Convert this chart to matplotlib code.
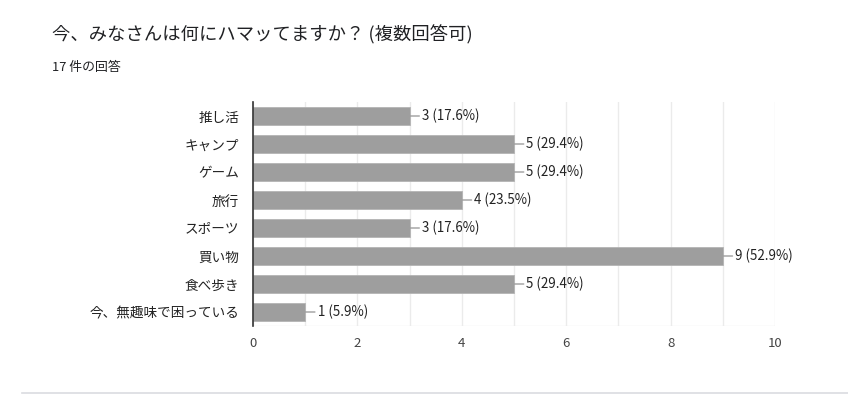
import matplotlib
matplotlib.use("Agg")
import matplotlib.pyplot as plt
from matplotlib.lines import Line2D

plt.rcParams['font.family'] = ['Noto Sans CJK JP', 'DejaVu Sans']

title = "今、みなさんは何にハマッてますか？ (複数回答可)"
subtitle = "17 件の回答"
categories = ["推し活", "キャンプ", "ゲーム", "旅行", "スポーツ", "買い物", "食べ歩き", "今、無趣味で困っている"]
counts = [3, 5, 5, 4, 3, 9, 5, 1]
percents = ["17.6", "29.4", "29.4", "23.5", "17.6", "52.9", "29.4", "5.9"]
xticks = [0, 2, 4, 6, 8, 10]

W, H = 848, 395
fig = plt.figure(figsize=(W / 100, H / 100), dpi=100)
ax = fig.add_axes([253 / W, 1 - 326 / H, (775 - 253) / W, (326 - 102) / H])

y = list(range(len(categories)))
ax.barh(y, counts, height=0.64, color="#9e9e9e", edgecolor="#b4b4b4", linewidth=0.6, zorder=3)
ax.set_ylim(len(categories) - 0.5, -0.5)
ax.set_xlim(0, 10)

ax.set_xticks(xticks)
ax.set_xticks(range(0, 11), minor=True)
ax.grid(True, axis='x', which='both', color="#ebebeb", linewidth=1, zorder=0)
ax.set_yticks(y)
ax.set_yticklabels(categories)
ax.tick_params(axis='y', length=0, pad=10, labelsize=9.8, labelcolor="#222222")
ax.tick_params(axis='x', length=0, pad=8, labelsize=9.5, labelcolor="#444444")
ax.tick_params(which='minor', length=0)

for s in ["top", "right", "bottom"]:
    ax.spines[s].set_visible(False)
ax.spines["left"].set_color("#333333")
ax.spines["left"].set_linewidth(1.2)
ax.spines["left"].set_zorder(4)
ax.axhline(len(categories) - 0.5, color="#ebebeb", linewidth=1, zorder=0)

for yi, c, p in zip(y, counts, percents):
    ax.annotate(f"{c} ({p}%)", xy=(c, yi), xytext=(9, 0), textcoords="offset points",
                va="center", ha="left", fontsize=9.6, color="#222222",
                arrowprops=dict(arrowstyle="-", color="#9e9e9e", lw=1, shrinkA=0, shrinkB=0))

fig.text(52 / W, 1 - 35 / H, title, fontsize=13.2, color="#202124", va="center", ha="left")
fig.text(52 / W, 1 - 68 / H, subtitle, fontsize=9.3, color="#202124", va="center", ha="left")

fig.add_artist(Line2D([22 / W, 1], [1 - 393 / H, 1 - 393 / H], color="#dadce0", linewidth=1.2))

fig.savefig("out.png", dpi=100)
